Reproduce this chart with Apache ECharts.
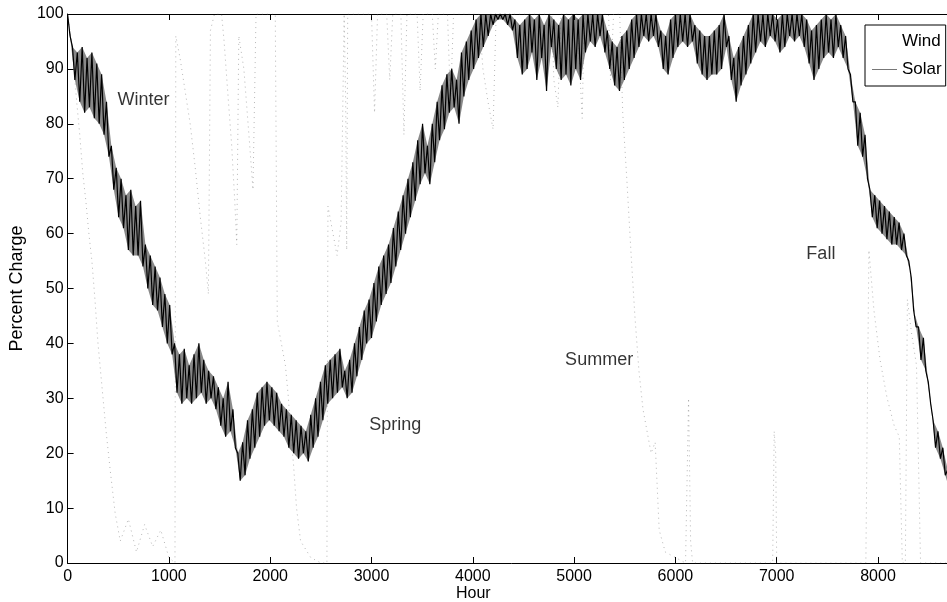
<!DOCTYPE html>
<html>
<head>
<meta charset="utf-8">
<script src="https://cdn.jsdelivr.net/npm/echarts@6/dist/echarts.min.js"></script>
<style>
html,body{margin:0;padding:0;background:#fff;overflow:hidden;}
#chart{width:960px;height:602px;}
</style>
</head>
<body>
<div id="chart"></div>
<script>
// ---- data ----
const WIND_STEP = 48; // hours between successive daily-peak samples
const windHigh = [
 100,94,93,94,92,93,91,89,84,76,
 72,70,67,68,65,66,58,56,54,52,
 49,47,40,38,39,36,38,40,37,35,
 34,32,30,33,28,20,22,26,28,31,
 32,33,32,31,29,28,27,26,25,24,
 27,30,33,36,37,38,39,35,37,40,
 43,46,48,51,54,56,58,61,64,67,
 70,73,77,80,76,80,84,87,89,90,
 88,93,95,97,99,100,100,100,100,100,
 100,100,99,98,99,100,99,100,98,100,
 99,98,100,99,100,99,100,100,100,100,
 100,97,95,94,96,97,99,100,100,100,
 100,100,97,96,99,100,100,100,100,98,
 97,96,96,97,98,100,96,92,94,96,
 98,100,100,100,100,100,99,100,100,100,
 100,100,99,97,98,99,100,99,100,98,
 96,89,84,82,78,68,67,66,65,64,
 63,62,60,55,46,43,41,33,26,24,
 21,17,14
];
const windLow = [
 96,88,84,82,83,81,80,78,74,68,
 63,61,57,56,56,54,50,47,46,43,
 40,38,31,29,30,29,30,31,29,30,
 28,25,23,24,21,15,16,19,21,23,
 25,26,25,24,23,21,20,19,20,18.5,
 21,23,26,29,30,31,32,30,31,34,
 37,40,41,44,47,49,51,54,57,60,
 63,66,69,71,69,73,77,79,82,83,
 80,85,88,90,92,94,96,98,99,99,
 98,97,92,89,90,93,88,92,86,94,
 90,88,89,87,90,88,93,95,94,96,
 93,90,87,86,88,90,92,94,96,95,
 96,94,90,89,92,94,95,94,95,91,
 89,88,89,89,90,94,88,84,87,89,
 91,93,95,94,96,95,93,94,96,95,
 96,94,91,88,90,92,93,92,94,92,
 90,84,76,74,70,63,61,60,59,58,
 58,57,56,52,43,37,35,29,21,19,
 16,13,10
];
const solarHours = [
 0,50,90,120,150,180,210,240,270,300,340,380,420,470,520,600,680,760,840,920,1000,1060,
 1068,1110,1160,1210,1260,1310,1360,1390,1410,1450,1520,1545,1580,1620,1650,1670,1690,
 1740,1790,1830,1860,2050,2070,2110,2150,2180,2200,2230,2260,2300,2400,2500,2560,2570,
 2620,2660,2700,2730,2745,2755,2765,3000,3030,3060,3150,3180,3210,3290,3320,3350,3450,
 3480,3510,3600,3630,3660,3750,3780,3810,4060,4100,4150,4200,4230,4780,4800,4840,4870,
 5030,5050,5080,5100,5340,5360,5390,5450,5480,5520,5560,5600,5640,5680,5720,5760,5800,
 5840,5900,6100,6130,6150,6170,6960,6975,6990,7000,7880,7910,7960,8020,8090,8160,8210,
 8240,8270,8290,8330,8380,8420,8760
];
const solarValues = [
 100,93,84,78,71,66,60,55,48,40,32,24,17,9,4,8,2,7,3,6,1,0,
 96,92,86,80,72,63,55,49,97,100,100,95,86,76,66,58,96,
 90,78,68,100,100,44,40,36,30,24,18,10,4,1,0,0,65,
 60,56,62,100,84,57,100,100,82,100,100,88,100,100,78,100,100,
 86,100,100,90,100,100,84,100,100,90,84,79,100,100,88,83,100,
 100,92,81,100,100,88,100,100,82,70,57,45,35,28,24,20,22,
 6,2,0,30,4,0,0,24,20,0,0,57,46,37,30,25,23,
 0,0,48,42,36,0,0
];
const xTickValues = [0,1000,2000,3000,4000,5000,6000,7000,8000];
const seasonNames  = ['Winter','Spring','Summer','Fall'];
const seasonHours  = [750,3235,5247,7436];
const seasonValues = [84.3,25.1,37,56.3];

// ---- build series data ----
const windData = [];
const windHighPts = [];
const windLowPts = [];
for (let i = 0; i < windHigh.length; i++) {
  windData.push([i * WIND_STEP, windHigh[i]]);
  windData.push([i * WIND_STEP + WIND_STEP / 2, windLow[i]]);
  windHighPts.push([i * WIND_STEP, windHigh[i]]);
  windLowPts.push([i * WIND_STEP + WIND_STEP / 2, windLow[i]]);
}
const solarData = solarHours.map((h, i) => [h, solarValues[i]]);
const seasonData = seasonNames.map((n, i) => [seasonHours[i], seasonValues[i], n]);

const FONT = 'Liberation Sans';
const chart = echarts.init(document.getElementById('chart'), null, {renderer: 'canvas'});
const axisCommon = {
  type: 'value', min: 0, max: 8760, interval: 1000,
  axisLine: {show: true, lineStyle: {color: '#000', width: 1}},
  splitLine: {show: false}
};
chart.setOption({
  animation: false,
  backgroundColor: '#fff',
  textStyle: {fontFamily: FONT, color: '#000'},
  grid: {left: 67, top: 14, width: 888, height: 549, containLabel: false},
  xAxis: [
    Object.assign({}, axisCommon, {
      position: 'bottom',
      axisTick: {inside: true, length: 6, lineStyle: {color: '#000'}},
      axisLabel: {
        margin: 6, fontSize: 16, color: '#000', fontFamily: FONT,
        formatter: v => (xTickValues.indexOf(v) >= 0 ? String(v) : '')
      }
    }),
    Object.assign({}, axisCommon, {
      position: 'top',
      axisTick: {inside: true, length: 6, lineStyle: {color: '#000'}},
      axisLabel: {show: false}
    })
  ],
  yAxis: [{
    type: 'value', min: 0, max: 100, interval: 10, position: 'left',
    axisLine: {show: true, lineStyle: {color: '#000', width: 1}},
    axisTick: {inside: true, length: 6, lineStyle: {color: '#000'}},
    axisLabel: {margin: 4, fontSize: 16, color: '#000', fontFamily: FONT},
    splitLine: {show: false},
    name: 'Percent Charge', nameLocation: 'middle', nameGap: 40,
    nameTextStyle: {fontSize: 18, color: '#000', fontFamily: FONT}
  }],
  legend: {
    orient: 'vertical', left: 865, top: 25,
    padding: [8, 4, 8, 6],
    itemWidth: 25, itemHeight: 14, itemGap: 11,
    backgroundColor: '#fff', borderColor: '#000', borderWidth: 1, borderRadius: 0,
    textStyle: {fontSize: 17, color: '#000', fontFamily: FONT},
    data: [
      {name: 'Wind', itemStyle: {opacity: 0}, lineStyle: {opacity: 0}},
      {name: 'Solar', itemStyle: {opacity: 0},
       lineStyle: {type: 'solid', color: '#777', width: 1, opacity: 1}}
    ]
  },
  graphic: [{
    type: 'text', left: 456, top: 586,
    style: {text: 'Hour', fontSize: 16, fontFamily: FONT, fill: '#000'}
  }],
  series: [
    {
      name: 'Solar', type: 'line', xAxisIndex: 0, yAxisIndex: 0,
      data: solarData, showSymbol: false, symbol: 'none', sampling: null,
      lineStyle: {color: '#666', width: 0.8, type: [1, 4], opacity: 0.6},
      itemStyle: {color: '#666'}, z: 2
    },
    {
      // shaded envelope of the daily wind oscillation (between peaks and troughs)
      name: 'windBand', type: 'custom', xAxisIndex: 0, yAxisIndex: 0,
      data: [[0, 0]], silent: true, clip: true, z: 2,
      renderItem: function (params, api) {
        const pts = [];
        for (const p of windHighPts) pts.push(api.coord(p));
        for (let i = windLowPts.length - 1; i >= 0; i--) pts.push(api.coord(windLowPts[i]));
        return {
          type: 'polygon',
          shape: {points: pts},
          style: {fill: 'rgba(20,20,20,0.5)', stroke: 'none'}
        };
      }
    },
    {
      name: 'Wind', type: 'line', xAxisIndex: 0, yAxisIndex: 0,
      data: windData, showSymbol: false, symbol: 'none',
      lineStyle: {color: '#000', width: 1.2},
      itemStyle: {color: '#000'}, z: 3
    },
    {
      name: 'seasons', type: 'scatter', xAxisIndex: 0, yAxisIndex: 0,
      data: seasonData, symbolSize: 0, silent: true,
      label: {show: true, position: 'inside', formatter: p => p.data[2],
        fontSize: 18, color: '#000', fontFamily: FONT},
      z: 4
    }
  ]
});
</script>
</body>
</html>
